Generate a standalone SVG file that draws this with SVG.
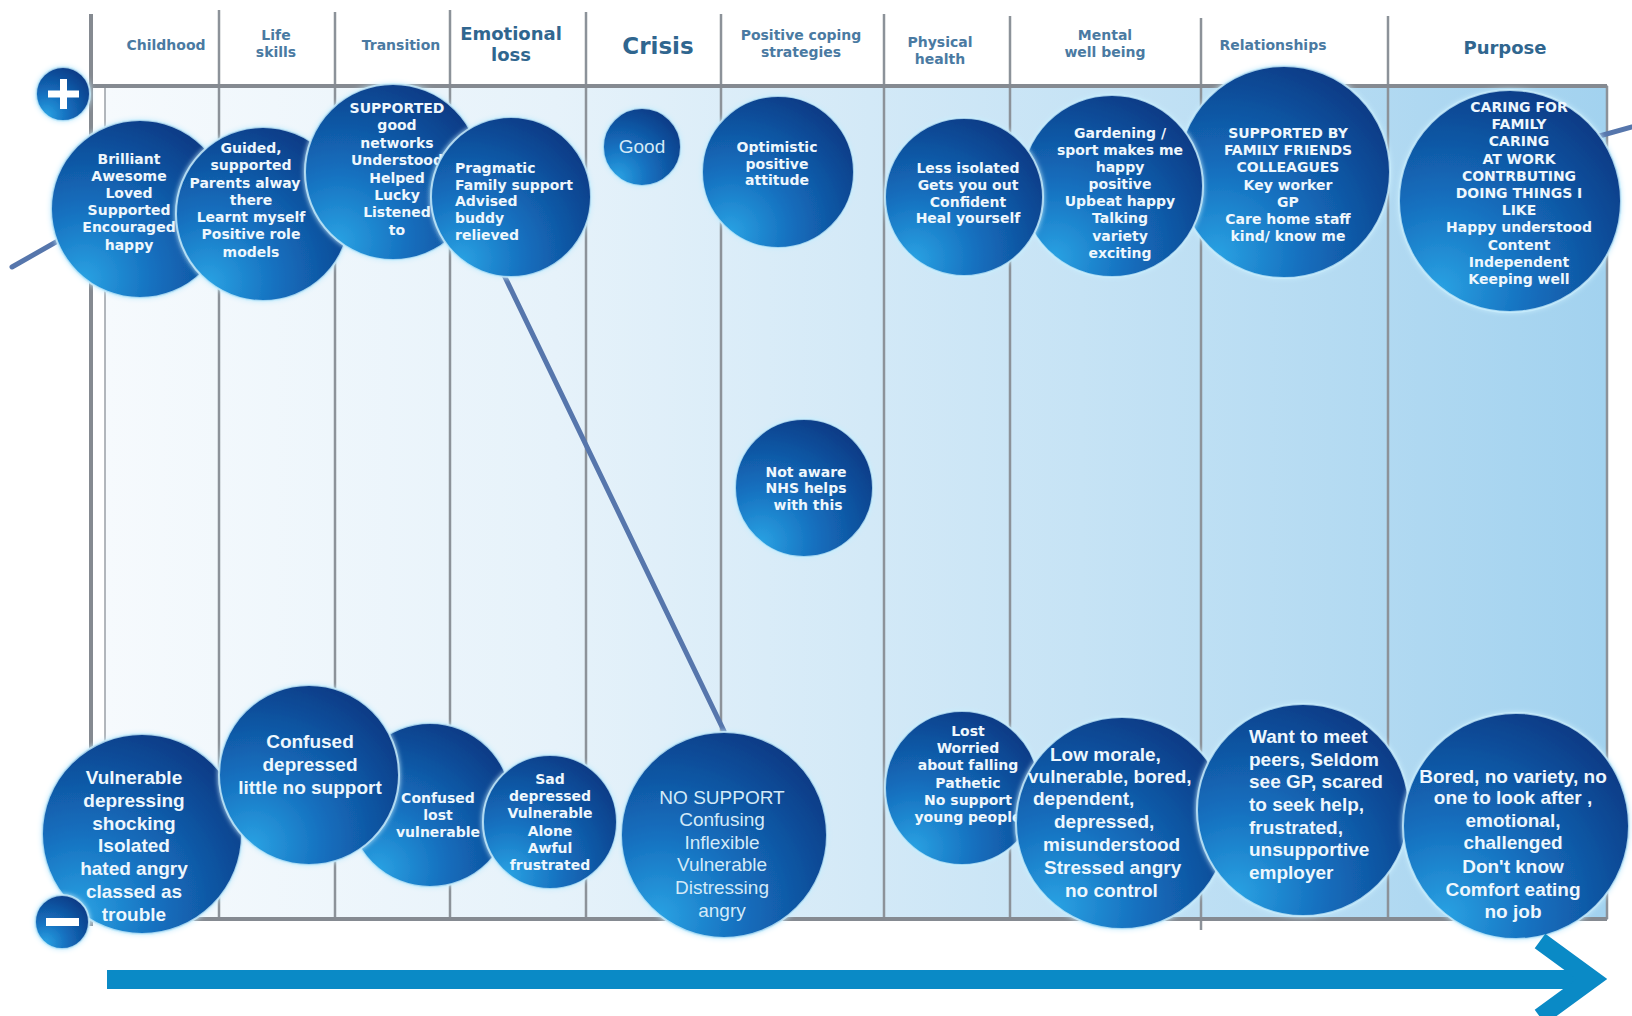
<svg xmlns="http://www.w3.org/2000/svg" width="1632" height="1016" viewBox="0 0 1632 1016">
<defs>
  <linearGradient id="chartBg" x1="0" y1="0" x2="1" y2="0">
    <stop offset="0" stop-color="#f6fafd"/>
    <stop offset="0.3" stop-color="#e6f2fa"/>
    <stop offset="0.65" stop-color="#c6e3f5"/>
    <stop offset="1" stop-color="#a2d2ef"/>
  </linearGradient>
  <radialGradient id="bub" cx="0.22" cy="0.85" r="0.95" fx="0.18" fy="0.9">
    <stop offset="0" stop-color="#2aa2e3"/>
    <stop offset="0.4" stop-color="#1570bf"/>
    <stop offset="1" stop-color="#0a3a85"/>
  </radialGradient>
  <filter id="glow" x="-10%" y="-10%" width="120%" height="120%">
    <feGaussianBlur in="SourceAlpha" stdDeviation="2.5" result="b"/>
    <feFlood flood-color="#c8ecfc"/>
    <feComposite in2="b" operator="in" result="g"/>
    <feMerge><feMergeNode in="g"/><feMergeNode in="SourceGraphic"/></feMerge>
  </filter>
  <style>
    .hdr{font-family:"DejaVu Sans",Verdana,sans-serif;font-weight:bold;font-size:14px;fill:#4a7aa2;text-anchor:middle}
    .hdrL{font-family:"DejaVu Sans",Verdana,sans-serif;font-weight:bold;fill:#30668f;text-anchor:middle}
    .grid{stroke:#8c9299;stroke-width:2.5}
    .frame{stroke:#858a91;stroke-width:4}
    .bub{fill:url(#bub);stroke:#c9edfd;stroke-width:2;stroke-opacity:0.8;filter:url(#glow)}
    .t{font-family:"DejaVu Sans",Verdana,sans-serif;font-weight:bold;font-size:14px;fill:#eef7fd;text-anchor:middle}
    .ts{font-family:"DejaVu Sans",Verdana,sans-serif;font-weight:bold;font-size:14px;fill:#eef7fd;text-anchor:start}
    .ta{font-family:"Liberation Sans",Arial,sans-serif;font-weight:bold;font-size:19px;fill:#eef7fd;text-anchor:middle}
    .tas{font-family:"Liberation Sans",Arial,sans-serif;font-weight:bold;font-size:19px;fill:#eef7fd;text-anchor:start}
    .tr{font-family:"Liberation Sans",Arial,sans-serif;font-size:19px;fill:#d3eaf8;text-anchor:middle}
    .conn{stroke:#5676ac;stroke-width:5;stroke-linecap:round;fill:none}
    .sign{fill:#ffffff}
  </style>
</defs>

<rect x="0" y="0" width="1632" height="1016" fill="#ffffff"/>

<g id="chart">
  <rect x="105" y="86" width="1502" height="833" fill="url(#chartBg)" stroke="#9aa0a6" stroke-width="1.5"/>
  <g class="grid">
    <line x1="219" y1="10" x2="219" y2="919"/>
    <line x1="335" y1="12" x2="335" y2="919"/>
    <line x1="450" y1="10" x2="450" y2="919"/>
    <line x1="586" y1="12" x2="586" y2="919"/>
    <line x1="721" y1="14" x2="721" y2="919"/>
    <line x1="884" y1="14" x2="884" y2="919"/>
    <line x1="1010" y1="16" x2="1010" y2="919"/>
    <line x1="1201" y1="18" x2="1201" y2="930"/>
    <line x1="1388" y1="16" x2="1388" y2="919"/>
    <line x1="1607" y1="86" x2="1607" y2="919"/>
  </g>
  <line class="frame" x1="91" y1="86" x2="1607" y2="86"/>
  <line class="frame" x1="91" y1="919" x2="1607" y2="919"/>
  <line class="frame" x1="91" y1="14" x2="91" y2="926"/>
</g>

<g id="headers">
  <text class="hdr" x="166" y="50">Childhood</text>
  <text class="hdr" x="276" y="40">Life</text>
  <text class="hdr" x="276" y="57">skills</text>
  <text class="hdr" x="401" y="50">Transition</text>
  <text class="hdrL" x="511" y="40" font-size="18">Emotional</text>
  <text class="hdrL" x="511" y="61" font-size="18">loss</text>
  <text class="hdrL" x="658" y="54" font-size="23">Crisis</text>
  <text class="hdr" x="801" y="40" font-size="13">Positive coping</text>
  <text class="hdr" x="801" y="57" font-size="13">strategies</text>
  <text class="hdr" x="940" y="47">Physical</text>
  <text class="hdr" x="940" y="64">health</text>
  <text class="hdr" x="1105" y="40">Mental</text>
  <text class="hdr" x="1105" y="57">well being</text>
  <text class="hdr" x="1273" y="50">Relationships</text>
  <text class="hdrL" x="1505" y="54" font-size="18">Purpose</text>
</g>

<g id="connectors">
  <line class="conn" x1="12" y1="267" x2="100" y2="217"/>
  <line class="conn" x1="490" y1="246" x2="724" y2="731"/>
  <line class="conn" x1="1560" y1="147" x2="1632" y2="127"/>
</g>

<g id="plus">
  <circle class="bub" cx="63" cy="94" r="27"/>
  <rect class="sign" x="48" y="90.5" width="31" height="7"/>
  <rect class="sign" x="60" y="79" width="7" height="30"/>
</g>

<g id="n-childhood-pos">
  <circle class="bub" cx="140" cy="209" r="89"/>
  <text class="t"><tspan x="129" y="164">Brilliant</tspan><tspan x="129" y="181">Awesome</tspan><tspan x="129" y="198">Loved</tspan><tspan x="129" y="215">Supported</tspan><tspan x="129" y="232">Encouraged</tspan><tspan x="129" y="250">happy</tspan></text>
</g>
<g id="n-lifeskills-pos">
  <circle class="bub" cx="263" cy="214" r="87"/>
  <text class="t"><tspan x="251" y="153">Guided,</tspan><tspan x="251" y="170">supported</tspan><tspan x="245" y="188">Parents alway</tspan><tspan x="251" y="205">there</tspan><tspan x="251" y="222">Learnt myself</tspan><tspan x="251" y="239">Positive role</tspan><tspan x="251" y="257">models</tspan></text>
</g>
<g id="n-transition-pos">
  <circle class="bub" cx="393" cy="172" r="88"/>
  <text class="t"><tspan x="397" y="113">SUPPORTED</tspan><tspan x="397" y="130">good</tspan><tspan x="397" y="148">networks</tspan><tspan x="397" y="165">Understood</tspan><tspan x="397" y="183">Helped</tspan><tspan x="397" y="200">Lucky</tspan><tspan x="397" y="217">Listened</tspan><tspan x="397" y="235">to</tspan></text>
</g>
<g id="n-emotional-pos">
  <circle class="bub" cx="511" cy="197" r="80"/>
  <text class="ts"><tspan x="455" y="173">Pragmatic</tspan><tspan x="455" y="190">Family support</tspan><tspan x="455" y="206">Advised</tspan><tspan x="455" y="223">buddy</tspan><tspan x="455" y="240">relieved</tspan></text>
</g>
<g id="n-crisis-pos">
  <circle class="bub" cx="642" cy="147" r="39"/>
  <text class="tr" x="642" y="153" font-size="18">Good</text>
</g>
<g id="n-coping-pos">
  <circle class="bub" cx="778" cy="172" r="76"/>
  <text class="t"><tspan x="777" y="152">Optimistic</tspan><tspan x="777" y="169">positive</tspan><tspan x="777" y="185">attitude</tspan></text>
</g>
<g id="n-relationships-pos">
  <circle class="bub" cx="1284" cy="172" r="106"/>
  <text class="t"><tspan x="1288" y="138">SUPPORTED BY</tspan><tspan x="1288" y="155">FAMILY FRIENDS</tspan><tspan x="1288" y="172">COLLEAGUES</tspan><tspan x="1288" y="190">Key worker</tspan><tspan x="1288" y="207">GP</tspan><tspan x="1288" y="224">Care home staff</tspan><tspan x="1288" y="241">kind/ know me</tspan></text>
</g>
<g id="n-mental-pos">
  <circle class="bub" cx="1112" cy="186" r="91"/>
  <text class="t"><tspan x="1120" y="138">Gardening /</tspan><tspan x="1120" y="155">sport makes me</tspan><tspan x="1120" y="172">happy</tspan><tspan x="1120" y="189">positive</tspan><tspan x="1120" y="206">Upbeat happy</tspan><tspan x="1120" y="223">Talking</tspan><tspan x="1120" y="241">variety</tspan><tspan x="1120" y="258">exciting</tspan></text>
</g>
<g id="n-physical-pos">
  <circle class="bub" cx="964" cy="197" r="79"/>
  <text class="t"><tspan x="968" y="173">Less isolated</tspan><tspan x="968" y="190">Gets you out</tspan><tspan x="968" y="207">Confident</tspan><tspan x="968" y="223">Heal yourself</tspan></text>
</g>
<g id="n-purpose-pos">
  <circle class="bub" cx="1510" cy="201" r="111"/>
  <text class="t"><tspan x="1519" y="112">CARING FOR</tspan><tspan x="1519" y="129">FAMILY</tspan><tspan x="1519" y="146">CARING</tspan><tspan x="1519" y="164">AT WORK</tspan><tspan x="1519" y="181">CONTRBUTING</tspan><tspan x="1519" y="198">DOING THINGS I</tspan><tspan x="1519" y="215">LIKE</tspan><tspan x="1519" y="232">Happy understood</tspan><tspan x="1519" y="250">Content</tspan><tspan x="1519" y="267">Independent</tspan><tspan x="1519" y="284">Keeping well</tspan></text>
</g>
<g id="n-coping-nhs">
  <circle class="bub" cx="804" cy="488" r="69"/>
  <text class="t"><tspan x="806" y="477">Not aware</tspan><tspan x="806" y="493">NHS helps</tspan><tspan x="808" y="510">with this</tspan></text>
</g>

<g id="n-childhood-neg">
  <circle class="bub" cx="142" cy="834" r="100"/>
  <text class="ta"><tspan x="134" y="784">Vulnerable</tspan><tspan x="134" y="807">depressing</tspan><tspan x="134" y="830">shocking</tspan><tspan x="134" y="852">Isolated</tspan><tspan x="134" y="875">hated angry</tspan><tspan x="134" y="898">classed as</tspan><tspan x="134" y="921">trouble</tspan></text>
</g>
<g id="n-transition-neg">
  <circle class="bub" cx="430" cy="805" r="82"/>
  <text class="t"><tspan x="438" y="803">Confused</tspan><tspan x="438" y="820">lost</tspan><tspan x="438" y="837">vulnerable</tspan></text>
</g>
<g id="n-lifeskills-neg">
  <circle class="bub" cx="309" cy="775" r="90"/>
  <text class="ta"><tspan x="310" y="748">Confused</tspan><tspan x="310" y="771">depressed</tspan><tspan x="310" y="794">little no support</tspan></text>
</g>
<g id="n-emotional-neg">
  <circle class="bub" cx="550" cy="822" r="67"/>
  <text class="t"><tspan x="550" y="784">Sad</tspan><tspan x="550" y="801">depressed</tspan><tspan x="550" y="818">Vulnerable</tspan><tspan x="550" y="836">Alone</tspan><tspan x="550" y="853">Awful</tspan><tspan x="550" y="870">frustrated</tspan></text>
</g>
<g id="n-crisis-neg">
  <circle class="bub" cx="724" cy="835" r="103"/>
  <text class="tr"><tspan x="722" y="804">NO SUPPORT</tspan><tspan x="722" y="826">Confusing</tspan><tspan x="722" y="849">Inflexible</tspan><tspan x="722" y="871">Vulnerable</tspan><tspan x="722" y="894">Distressing</tspan><tspan x="722" y="917">angry</tspan></text>
</g>
<g id="n-physical-neg">
  <circle class="bub" cx="962" cy="788" r="77"/>
  <text class="t"><tspan x="968" y="736">Lost</tspan><tspan x="968" y="753">Worried</tspan><tspan x="968" y="770">about falling</tspan><tspan x="968" y="788">Pathetic</tspan><tspan x="968" y="805">No support</tspan><tspan x="968" y="822">young people</tspan></text>
</g>
<g id="n-mental-neg">
  <circle class="bub" cx="1122" cy="823" r="106"/>
  <text class="tas"><tspan x="1050" y="761">Low morale,</tspan><tspan x="1028" y="783">vulnerable, bored,</tspan><tspan x="1033" y="805">dependent,</tspan><tspan x="1054" y="828">depressed,</tspan><tspan x="1043" y="851">misunderstood</tspan><tspan x="1044" y="874">Stressed angry</tspan><tspan x="1065" y="897">no control</tspan></text>
</g>
<g id="n-relationships-neg">
  <circle class="bub" cx="1303" cy="810" r="106"/>
  <text class="tas"><tspan x="1249" y="743">Want to meet</tspan><tspan x="1249" y="766">peers, Seldom</tspan><tspan x="1249" y="788">see GP, scared</tspan><tspan x="1249" y="811">to seek help,</tspan><tspan x="1249" y="834">frustrated,</tspan><tspan x="1249" y="856">unsupportive</tspan><tspan x="1249" y="879">employer</tspan></text>
</g>
<g id="n-purpose-neg">
  <circle class="bub" cx="1516" cy="826" r="113"/>
  <text class="ta"><tspan x="1513" y="783">Bored, no variety, no</tspan><tspan x="1513" y="804">one to look after ,</tspan><tspan x="1513" y="827">emotional,</tspan><tspan x="1513" y="849">challenged</tspan><tspan x="1513" y="873">Don't know</tspan><tspan x="1513" y="896">Comfort eating</tspan><tspan x="1513" y="918">no job</tspan></text>
</g>

<g id="minus">
  <circle class="bub" cx="62" cy="922" r="27"/>
  <rect class="sign" x="46" y="918" width="33" height="8"/>
</g>

<g id="time-arrow">
  <rect x="107" y="970" width="1475" height="19" fill="#0a8ac6"/>
  <polyline points="1540,941 1592,979 1540,1017" fill="none" stroke="#0a8ac6" stroke-width="18" stroke-linejoin="miter"/>
</g>
</svg>
